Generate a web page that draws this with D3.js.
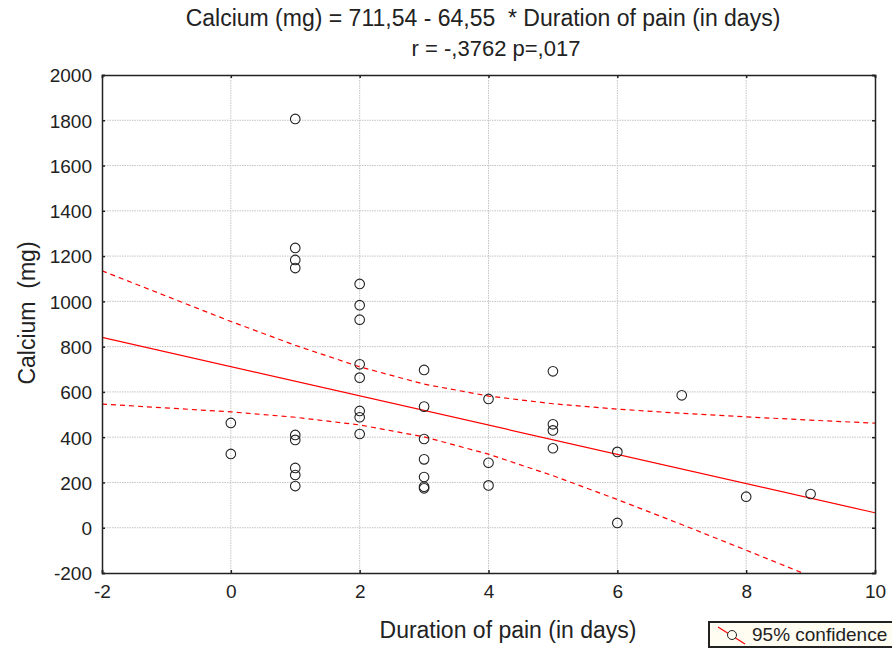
<!DOCTYPE html>
<html>
<head>
<meta charset="utf-8">
<script src="https://cdn.jsdelivr.net/npm/d3@7"></script>
<style>
  body { margin: 0; background: #fff; }
  svg text { font-family: "Liberation Sans", Arial, sans-serif; fill: #222; }
</style>
</head>
<body>
<div class="chart"></div>
<script>
// duration of pain (days) and calcium (mg)
const days = [
  0, 0,
  1, 1, 1, 1, 1, 1, 1, 1, 1,
  2, 2, 2, 2, 2, 2, 2, 2,
  3, 3, 3, 3, 3, 3, 3,
  4, 4, 4,
  5, 5, 5, 5,
  6, 6,
  7, 8, 9
];
const calcium = [
  463, 326,
  1806, 1236, 1183, 1147, 410, 388, 264, 233, 184,
  1077, 983, 919, 722, 663, 516, 488, 414,
  697, 535, 392, 302, 224, 181, 174,
  569, 287, 187,
  691, 457, 430, 351,
  335, 21,
  585, 137, 149
];
const xTicks = [-2, 0, 2, 4, 6, 8, 10];
const yTicks = [-200, 0, 200, 400, 600, 800, 1000, 1200, 1400, 1600, 1800, 2000];
const intercept = 711.54;
const slope = -64.55;
const tCrit = 2.028; // t(0.975, df = 36)

function drawScatter(){

    const W = 892, H = 649;
    const margin = { top: 75, right: 17, bottom: 76, left: 102 };
    const width = W - margin.left - margin.right;
    const height = H - margin.top - margin.bottom;

    const svg = d3.select(".chart")
        .append("svg")
        .attr("width", W)
        .attr("height", H);

    const g = svg.append("g")
        .attr("transform", `translate(${margin.left},${margin.top})`);

    const x = d3.scaleLinear().domain([-2, 10]).range([0, width]);
    const y = d3.scaleLinear().domain([-200, 2000]).range([height, 0]);

    // grid
    g.append("g").selectAll("line")
        .data(xTicks.slice(1, -1))
        .enter().append("line")
        .attr("x1", d => x(d)).attr("x2", d => x(d))
        .attr("y1", 0).attr("y2", height)
        .attr("stroke", "#c4c4c4")
        .attr("stroke-dasharray", "1.5,1");

    g.append("g").selectAll("line")
        .data(yTicks.slice(1, -1))
        .enter().append("line")
        .attr("x1", 0).attr("x2", width)
        .attr("y1", d => y(d)).attr("y2", d => y(d))
        .attr("stroke", "#c4c4c4")
        .attr("stroke-dasharray", "1.5,1");

    // regression + 95% band
    const n = days.length;
    const xbar = d3.mean(days);
    const sxx = d3.sum(days, d => (d - xbar) * (d - xbar));
    const sse = d3.sum(days, (d, i) => {
        const r = calcium[i] - (intercept + slope * d);
        return r * r;
    });
    const s = Math.sqrt(sse / (n - 2));
    const bandX = [-2, ...Array.from(new Set(days)), 10].sort((a, b) => a - b);
    const band = bandX.map(v => {
        const fit = intercept + slope * v;
        const hw = tCrit * s * Math.sqrt(1 / n + (v - xbar) * (v - xbar) / sxx);
        return { x: v, lo: fit - hw, hi: fit + hw };
    });

    svg.append("clipPath").attr("id", "plotclip")
        .append("rect").attr("width", width).attr("height", height);

    const lines = g.append("g").attr("clip-path", "url(#plotclip)");

    lines.append("line")
        .attr("x1", x(-2)).attr("y1", y(intercept + slope * -2))
        .attr("x2", x(10)).attr("y2", y(intercept + slope * 10))
        .attr("stroke", "#ff0000")
        .attr("stroke-width", 1.2);

    ["lo", "hi"].forEach(k => {
        lines.append("path")
            .datum(band)
            .attr("d", d3.line().x(d => x(d.x)).y(d => y(d[k])))
            .attr("fill", "none")
            .attr("stroke", "#ff0000")
            .attr("stroke-width", 1.2)
            .attr("stroke-dasharray", "5,4");
    });

    // points
    g.append("g").selectAll("circle")
        .data(days.map((d, i) => ({ d: d, c: calcium[i] })))
        .enter().append("circle")
        .attr("cx", p => x(p.d))
        .attr("cy", p => y(p.c))
        .attr("r", 4.8)
        .attr("fill", "none")
        .attr("stroke", "#222")
        .attr("stroke-width", 1.1);

    // axes (ticks inside the frame)
    const fmt = d => String(d);
    const axLeft = g.append("g").call(d3.axisLeft(y).tickValues(yTicks).tickSize(-3).tickPadding(10).tickFormat(fmt));
    const axBottom = g.append("g").attr("transform", `translate(0,${height})`)
        .call(d3.axisBottom(x).tickValues(xTicks).tickSize(-3).tickPadding(12).tickFormat(fmt));
    const axTop = g.append("g").call(d3.axisTop(x).tickValues(xTicks).tickSize(-3).tickFormat(""));
    const axRight = g.append("g").attr("transform", `translate(${width},0)`)
        .call(d3.axisRight(y).tickValues(yTicks).tickSize(-3).tickFormat(""));

    [axLeft, axBottom, axTop, axRight].forEach(a => {
        a.select(".domain").attr("stroke", "#222").attr("stroke-width", 1.5);
        a.selectAll(".tick line").attr("stroke", "#222").attr("stroke-width", 1.5);
        a.selectAll("text").style("font-size", "19px").attr("fill", "#222");
    });
    axLeft.selectAll(".tick text").attr("dy", "0.36em");
    axBottom.selectAll(".tick text").attr("dy", "0.71em");

    // titles
    svg.append("text")
        .attr("x", 483).attr("y", 26)
        .attr("text-anchor", "middle")
        .attr("xml:space", "preserve")
        .style("font-size", "23px")
        .text("Calcium (mg) = 711,54 - 64,55  * Duration of pain (in days)");

    svg.append("text")
        .attr("x", 496).attr("y", 56)
        .attr("text-anchor", "middle")
        .style("font-size", "22px")
        .text("r = -,3762 p=,017");

    svg.append("text")
        .attr("x", 508).attr("y", 638)
        .attr("text-anchor", "middle")
        .style("font-size", "23px")
        .text("Duration of pain (in days)");

    svg.append("text")
        .attr("transform", "translate(35,313) rotate(-90)")
        .attr("text-anchor", "middle")
        .attr("xml:space", "preserve")
        .style("font-size", "23px")
        .text("Calcium  (mg)");

    // legend
    const leg = svg.append("g").attr("transform", "translate(709,622)");
    leg.append("rect")
        .attr("width", 190).attr("height", 25)
        .attr("fill", "#fffcf2")
        .attr("stroke", "#222")
        .attr("stroke-width", 2);
    leg.append("line")
        .attr("x1", 9).attr("y1", 5).attr("x2", 36).attr("y2", 22)
        .attr("stroke", "#ff0000").attr("stroke-width", 1.2);
    leg.append("circle")
        .attr("cx", 23).attr("cy", 13).attr("r", 4.5)
        .attr("fill", "#fffcf2").attr("stroke", "#222");
    leg.append("text")
        .attr("x", 43).attr("y", 19)
        .style("font-size", "19px")
        .text("95% confidence");
}

drawScatter();
</script>
</body>
</html>
